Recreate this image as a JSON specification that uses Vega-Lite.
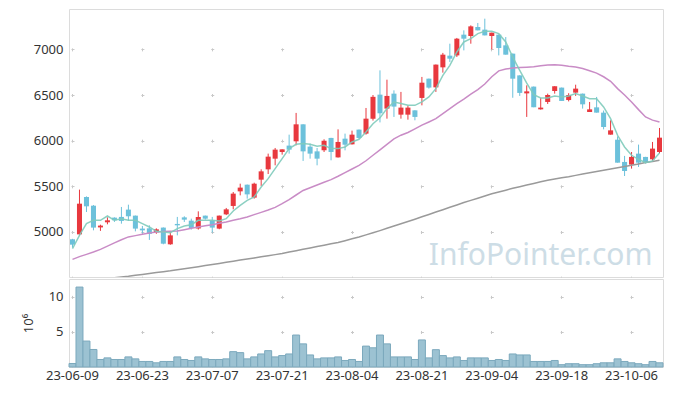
{
  "$schema": "https://vega.github.io/schema/vega-lite/v6.json",
  "padding": {"left": 21, "top": 8, "right": 9, "bottom": 5},
  "spacing": 0,
  "config": {
    "view": {"stroke": "#dcdcdc", "strokeWidth": 1},
    "axis": {"labelFont": "Noto Sans", "labelFontSize": 13, "labelColor": "#333333", "ticks": false, "domain": false, "gridColor": "#c8c8c8", "titleFont": "Noto Sans"}
  },
  "data": {"values": [
    {"d":"23-06-09","o":4920,"h":4925,"l":4829,"c":4861,"v":0.5,"m5":4818,"m20":4700,"m60":4440},
    {"d":"23-06-12","o":4974,"h":5464,"l":4960,"c":5310,"v":11.4,"m5":4963,"m20":4730,"m60":4450},
    {"d":"23-06-13","o":5383,"h":5390,"l":5219,"c":5281,"v":3.7,"m5":5091,"m20":4755,"m60":4460},
    {"d":"23-06-14","o":5288,"h":5295,"l":5018,"c":5048,"v":2.5,"m5":5128,"m20":4781,"m60":4470},
    {"d":"23-06-15","o":5050,"h":5080,"l":5012,"c":5070,"v":1.07,"m5":5128,"m20":4810,"m60":4480},
    {"d":"23-06-16","o":5106,"h":5160,"l":5084,"c":5128,"v":1.3,"m5":5175,"m20":4845,"m60":4490},
    {"d":"23-06-19","o":5157,"h":5160,"l":5110,"c":5128,"v":1.07,"m5":5128,"m20":4880,"m60":4500},
    {"d":"23-06-20","o":5165,"h":5274,"l":5091,"c":5121,"v":1.07,"m5":5146,"m20":4915,"m60":4508},
    {"d":"23-06-21","o":5245,"h":5299,"l":5121,"c":5172,"v":1.44,"m5":5128,"m20":4946,"m60":4515},
    {"d":"23-06-22","o":5179,"h":5180,"l":5007,"c":5037,"v":1.16,"m5":5128,"m20":4960,"m60":4525},
    {"d":"23-06-23","o":5037,"h":5066,"l":4982,"c":5018,"v":0.79,"m5":5091,"m20":4975,"m60":4535},
    {"d":"23-06-26","o":5040,"h":5073,"l":4913,"c":4979,"v":0.79,"m5":5055,"m20":4988,"m60":4545},
    {"d":"23-06-27","o":4996,"h":5040,"l":4980,"c":5029,"v":0.6,"m5":5007,"m20":5000,"m60":4555},
    {"d":"23-06-28","o":5048,"h":5050,"l":4865,"c":4872,"v":0.79,"m5":5000,"m20":5004,"m60":4565},
    {"d":"23-06-29","o":4865,"h":5000,"l":4860,"c":4963,"v":0.79,"m5":4993,"m20":5008,"m60":4575},
    {"d":"23-06-30","o":5088,"h":5165,"l":4963,"c":5073,"v":1.44,"m5":5037,"m20":5011,"m60":4587},
    {"d":"23-07-03","o":5160,"h":5172,"l":5110,"c":5135,"v":1.07,"m5":5066,"m20":5025,"m60":4598},
    {"d":"23-07-04","o":5124,"h":5146,"l":5026,"c":5044,"v":0.93,"m5":5080,"m20":5040,"m60":4609},
    {"d":"23-07-05","o":5037,"h":5226,"l":5026,"c":5165,"v":1.44,"m5":5128,"m20":5055,"m60":4620},
    {"d":"23-07-06","o":5179,"h":5180,"l":5135,"c":5146,"v":1.16,"m5":5128,"m20":5068,"m60":4632},
    {"d":"23-07-07","o":5128,"h":5165,"l":4993,"c":5048,"v":1.07,"m5":5128,"m20":5080,"m60":4644},
    {"d":"23-07-10","o":5037,"h":5180,"l":5030,"c":5179,"v":1.07,"m5":5121,"m20":5095,"m60":4656},
    {"d":"23-07-11","o":5193,"h":5263,"l":5185,"c":5248,"v":1.16,"m5":5146,"m20":5110,"m60":4668},
    {"d":"23-07-12","o":5285,"h":5438,"l":5248,"c":5420,"v":2.19,"m5":5230,"m20":5128,"m60":4680},
    {"d":"23-07-13","o":5445,"h":5529,"l":5401,"c":5486,"v":2.05,"m5":5292,"m20":5145,"m60":4692},
    {"d":"23-07-14","o":5518,"h":5520,"l":5365,"c":5412,"v":1.16,"m5":5346,"m20":5165,"m60":4704},
    {"d":"23-07-17","o":5376,"h":5540,"l":5365,"c":5529,"v":1.44,"m5":5383,"m20":5190,"m60":4716},
    {"d":"23-07-18","o":5573,"h":5686,"l":5504,"c":5664,"v":1.86,"m5":5493,"m20":5215,"m60":4728},
    {"d":"23-07-19","o":5686,"h":5858,"l":5635,"c":5825,"v":2.33,"m5":5584,"m20":5240,"m60":4740},
    {"d":"23-07-20","o":5803,"h":5920,"l":5730,"c":5902,"v":1.44,"m5":5694,"m20":5270,"m60":4752},
    {"d":"23-07-21","o":5876,"h":5905,"l":5847,"c":5905,"v":1.63,"m5":5803,"m20":5310,"m60":4765},
    {"d":"23-07-24","o":5946,"h":6066,"l":5858,"c":5902,"v":1.86,"m5":5913,"m20":5355,"m60":4780},
    {"d":"23-07-25","o":5993,"h":6304,"l":5949,"c":6179,"v":4.56,"m5":5960,"m20":5405,"m60":4795},
    {"d":"23-07-26","o":6179,"h":6180,"l":5778,"c":5883,"v":3.3,"m5":5968,"m20":5455,"m60":4810},
    {"d":"23-07-27","o":5935,"h":5968,"l":5803,"c":5858,"v":1.72,"m5":5960,"m20":5485,"m60":4825},
    {"d":"23-07-28","o":5883,"h":5920,"l":5730,"c":5803,"v":1.16,"m5":5938,"m20":5515,"m60":4840},
    {"d":"23-07-31","o":5894,"h":6015,"l":5876,"c":6000,"v":1.3,"m5":5949,"m20":5545,"m60":4855},
    {"d":"23-08-01","o":6030,"h":6031,"l":5785,"c":5876,"v":1.3,"m5":5913,"m20":5573,"m60":4870},
    {"d":"23-08-02","o":5817,"h":6124,"l":5815,"c":5986,"v":1.44,"m5":5913,"m20":5610,"m60":4885},
    {"d":"23-08-03","o":6022,"h":6077,"l":5894,"c":5956,"v":0.93,"m5":5931,"m20":5650,"m60":4905},
    {"d":"23-08-04","o":5960,"h":6110,"l":5958,"c":6066,"v":1.07,"m5":5986,"m20":5690,"m60":4925},
    {"d":"23-08-07","o":6121,"h":6122,"l":6020,"c":6030,"v":0.79,"m5":6015,"m20":5730,"m60":4945},
    {"d":"23-08-08","o":6077,"h":6358,"l":6066,"c":6241,"v":2.98,"m5":6095,"m20":5780,"m60":4968},
    {"d":"23-08-09","o":6240,"h":6500,"l":6220,"c":6480,"v":2.74,"m5":6186,"m20":5840,"m60":4991},
    {"d":"23-08-10","o":6504,"h":6770,"l":6200,"c":6300,"v":4.56,"m5":6250,"m20":5900,"m60":5015},
    {"d":"23-08-11","o":6351,"h":6668,"l":6241,"c":6490,"v":3.3,"m5":6351,"m20":5960,"m60":5040},
    {"d":"23-08-14","o":6515,"h":6551,"l":6260,"c":6373,"v":1.44,"m5":6424,"m20":6020,"m60":5065},
    {"d":"23-08-16","o":6285,"h":6534,"l":6241,"c":6362,"v":1.44,"m5":6406,"m20":6060,"m60":5090},
    {"d":"23-08-17","o":6285,"h":6387,"l":6230,"c":6362,"v":1.44,"m5":6387,"m20":6090,"m60":5115},
    {"d":"23-08-18","o":6332,"h":6334,"l":6223,"c":6260,"v":1.07,"m5":6387,"m20":6130,"m60":5140},
    {"d":"23-08-21","o":6468,"h":6698,"l":6387,"c":6635,"v":3.86,"m5":6424,"m20":6170,"m60":5166},
    {"d":"23-08-22","o":6679,"h":6680,"l":6570,"c":6581,"v":1.3,"m5":6479,"m20":6205,"m60":5192},
    {"d":"23-08-23","o":6584,"h":6834,"l":6534,"c":6833,"v":2.47,"m5":6570,"m20":6241,"m60":5218},
    {"d":"23-08-24","o":6803,"h":6961,"l":6745,"c":6942,"v":1.63,"m5":6715,"m20":6295,"m60":5244},
    {"d":"23-08-25","o":6931,"h":7062,"l":6862,"c":6898,"v":1.3,"m5":6825,"m20":6350,"m60":5270},
    {"d":"23-08-28","o":6934,"h":7125,"l":6917,"c":7117,"v":1.44,"m5":6971,"m20":6405,"m60":5296},
    {"d":"23-08-29","o":7161,"h":7208,"l":6989,"c":7117,"v":0.93,"m5":7081,"m20":6455,"m60":5322},
    {"d":"23-08-30","o":7146,"h":7263,"l":7062,"c":7252,"v":1.3,"m5":7117,"m20":6510,"m60":5346},
    {"d":"23-08-31","o":7245,"h":7289,"l":7208,"c":7208,"v":1.3,"m5":7172,"m20":6560,"m60":5370},
    {"d":"23-09-01","o":7216,"h":7336,"l":7153,"c":7153,"v":1.3,"m5":7197,"m20":6620,"m60":5394},
    {"d":"23-09-04","o":7146,"h":7183,"l":7000,"c":7183,"v":0.93,"m5":7197,"m20":6700,"m60":5418},
    {"d":"23-09-05","o":7161,"h":7162,"l":6934,"c":7015,"v":1.07,"m5":7172,"m20":6765,"m60":5438},
    {"d":"23-09-06","o":7044,"h":7135,"l":6942,"c":6942,"v":0.93,"m5":7081,"m20":6785,"m60":5458},
    {"d":"23-09-07","o":6953,"h":6955,"l":6470,"c":6679,"v":1.86,"m5":6915,"m20":6796,"m60":5478},
    {"d":"23-09-08","o":6715,"h":6716,"l":6490,"c":6523,"v":1.72,"m5":6770,"m20":6800,"m60":5496},
    {"d":"23-09-11","o":6518,"h":6606,"l":6260,"c":6540,"v":1.72,"m5":6630,"m20":6805,"m60":5514},
    {"d":"23-09-12","o":6592,"h":6593,"l":6366,"c":6366,"v":0.79,"m5":6504,"m20":6810,"m60":5532},
    {"d":"23-09-13","o":6343,"h":6468,"l":6340,"c":6362,"v":0.79,"m5":6468,"m20":6820,"m60":5550},
    {"d":"23-09-14","o":6424,"h":6515,"l":6402,"c":6500,"v":0.79,"m5":6468,"m20":6830,"m60":5566},
    {"d":"23-09-15","o":6544,"h":6596,"l":6515,"c":6596,"v":0.93,"m5":6490,"m20":6832,"m60":5581},
    {"d":"23-09-18","o":6581,"h":6582,"l":6435,"c":6435,"v":0.33,"m5":6479,"m20":6825,"m60":5595},
    {"d":"23-09-19","o":6445,"h":6520,"l":6430,"c":6500,"v":0.47,"m5":6490,"m20":6815,"m60":5606},
    {"d":"23-09-20","o":6526,"h":6613,"l":6490,"c":6570,"v":0.47,"m5":6515,"m20":6807,"m60":5620},
    {"d":"23-09-21","o":6515,"h":6516,"l":6351,"c":6398,"v":0.33,"m5":6490,"m20":6790,"m60":5634},
    {"d":"23-09-22","o":6314,"h":6424,"l":6314,"c":6343,"v":0.33,"m5":6460,"m20":6765,"m60":5648},
    {"d":"23-09-25","o":6365,"h":6479,"l":6307,"c":6307,"v":0.47,"m5":6460,"m20":6740,"m60":5662},
    {"d":"23-09-26","o":6307,"h":6330,"l":6124,"c":6150,"v":0.6,"m5":6369,"m20":6700,"m60":5676},
    {"d":"23-09-27","o":6066,"h":6223,"l":6066,"c":6113,"v":0.6,"m5":6241,"m20":6650,"m60":5690},
    {"d":"23-10-04","o":6011,"h":6047,"l":5759,"c":5759,"v":1.16,"m5":6059,"m20":6570,"m60":5703},
    {"d":"23-10-05","o":5767,"h":5833,"l":5613,"c":5668,"v":0.79,"m5":5931,"m20":6500,"m60":5716},
    {"d":"23-10-06","o":5738,"h":5876,"l":5694,"c":5822,"v":0.6,"m5":5840,"m20":6424,"m60":5730},
    {"d":"23-10-10","o":5858,"h":5957,"l":5712,"c":5759,"v":0.47,"m5":5796,"m20":6340,"m60":5745},
    {"d":"23-10-11","o":5822,"h":5823,"l":5750,"c":5759,"v":0.33,"m5":5759,"m20":6260,"m60":5760},
    {"d":"23-10-12","o":5796,"h":5986,"l":5780,"c":5913,"v":0.79,"m5":5778,"m20":6225,"m60":5772},
    {"d":"23-10-13","o":5876,"h":6139,"l":5860,"c":6033,"v":0.6,"m5":5865,"m20":6205,"m60":5785}
  ]},
  "vconcat": [
    {
      "width": 594,
      "height": 268,
      "encoding": {
        "x": {"field": "d", "type": "ordinal", "sort": null, "title": null,
          "scale": {"type": "band", "paddingInner": 0, "paddingOuter": 0},
          "axis": {"values": ["23-06-09","23-06-23","23-07-07","23-07-21","23-08-04","23-08-21","23-09-04","23-09-18","23-10-06"], "labels": false, "grid": true, "bandPosition": 0.5, "gridDash": [3, 42.66], "gridDashOffset": 6.8}}
      },
      "layer": [
        {
          "mark": {"type": "rule", "strokeWidth": 1},
          "encoding": {
            "y": {"field": "l", "type": "quantitative", "title": null,
              "scale": {"domain": [4507, 7442], "nice": false, "zero": false},
              "axis": {"values": [5000, 5500, 6000, 6500, 7000], "format": "d", "grid": true, "labelPadding": 6, "gridDash": [3, 66.88], "gridDashOffset": 67.88}},
            "y2": {"field": "h"},
            "color": {"condition": {"test": "datum.c >= datum.o", "value": "#e8383e"}, "value": "#6cc1db"}
          }
        },
        {
          "mark": {"type": "bar", "width": {"band": 0.72}},
          "encoding": {
            "y": {"field": "o", "type": "quantitative"},
            "y2": {"field": "c"},
            "color": {"condition": {"test": "datum.c >= datum.o", "value": "#e8383e"}, "value": "#6cc1db"}
          }
        },
        {
          "mark": {"type": "line", "color": "#9a9a9a", "strokeWidth": 1.5, "clip": true},
          "encoding": {"y": {"field": "m60", "type": "quantitative"}}
        },
        {
          "mark": {"type": "line", "color": "#c98cc6", "strokeWidth": 1.5, "clip": true},
          "encoding": {"y": {"field": "m20", "type": "quantitative"}}
        },
        {
          "mark": {"type": "line", "color": "#7fcbbb", "strokeWidth": 1.5, "opacity": 0.9, "clip": true},
          "encoding": {"y": {"field": "m5", "type": "quantitative"}}
        },
        {
          "transform": [{"filter": "datum.d == '23-10-12'"}],
          "mark": {"type": "text", "align": "right", "baseline": "alphabetic", "font": "Noto Sans", "fontSize": 30, "color": "#cddde6"},
          "encoding": {"y": {"datum": 4634, "type": "quantitative"}, "text": {"value": "InfoPointer.com"}}
        }
      ]
    },
    {
      "width": 594,
      "height": 88,
      "mark": {"type": "bar", "fill": "#9cc2d2", "stroke": "#7ca9bd", "strokeWidth": 1},
      "encoding": {
        "x": {"field": "d", "type": "ordinal", "sort": null, "title": null,
          "scale": {"type": "band", "paddingInner": 0, "paddingOuter": 0},
          "axis": {"values": ["23-06-09","23-06-23","23-07-07","23-07-21","23-08-04","23-08-21","23-09-04","23-09-18","23-10-06"], "labelAngle": 0, "labelPadding": 2, "grid": true, "bandPosition": 0.5, "gridDash": [3, 32.06], "gridDashOffset": 18.66}},
        "y": {"field": "v", "type": "quantitative", "title": "10⁶",
          "scale": {"domain": [0, 12.55], "nice": false},
          "axis": {"values": [5, 10], "grid": true, "labelPadding": 6, "titlePadding": 13, "titleFontSize": 13, "titleFontWeight": "normal", "titleColor": "#333333", "gridDash": [3, 66.88], "gridDashOffset": 67.88}}
      }
    }
  ]
}
